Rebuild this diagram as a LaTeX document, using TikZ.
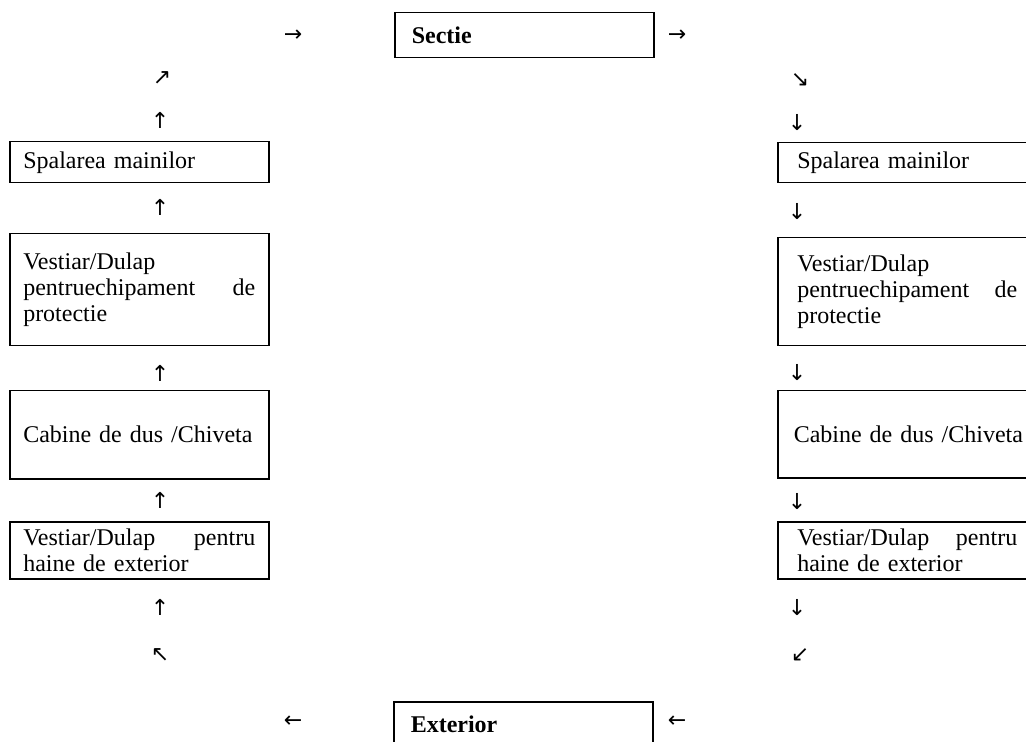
\documentclass[tikz,border=0pt]{standalone}
\usepackage{fontspec}
\setmainfont{Liberation Serif}
\newfontfamily\arrowfont{DejaVu Sans}
\begin{document}
\begin{tikzpicture}[x=0.5pt,y=-0.5pt,
  box/.style={draw, line width=0.75pt, anchor=north west,
    minimum width=129.5pt, text width=116pt, inner xsep=6.75pt,
    inner ysep=0pt, align=left, font=\fontsize{12}{13}\selectfont},
  rbox/.style={box, text width=110pt, inner xsep=8pt},
  headbox/.style={box, text width=112.5pt, inner xsep=8pt,
    font=\fontsize{12}{13}\selectfont\bfseries},
  arr/.style={font=\arrowfont\fontsize{11}{11}\selectfont, inner sep=0pt}]
\useasboundingbox (0,0) rectangle (1026,742);
\clip (0,0) rectangle (1026,742);

% top and bottom blocks
\node[headbox, minimum height=22.5pt] (sectie) at (394,12) {Sectie};
\node[headbox, minimum height=23pt] (exterior) at (393,701) {Exterior};

% left column (way in)
\node[box, minimum height=20.5pt] (l1) at (9,141) {Spalarea mainilor};
\node[box, minimum height=56pt] (l2) at (9,233)
  {Vestiar/Dulap\\pentruechipament\hfill de\\protectie};
\node[box, minimum height=44pt] (l3) at (9,390) {Cabine de dus /Chiveta};
\node[box, minimum height=28.5pt] (l4) at (9,521)
  {Vestiar/Dulap\hfill pentru\\haine de exterior};

% right column (way out)
\node[rbox, minimum height=20pt] (r1) at (777,142) {Spalarea mainilor};
\node[rbox, minimum height=54pt] (r2) at (777,237)
  {Vestiar/Dulap\\pentruechipament\hfill de\\protectie};
\node[rbox, text width=116pt, minimum height=43.5pt] (r3) at (777,390)
  {Cabine de dus /Chiveta};
\node[rbox, minimum height=28.5pt] (r4) at (777,521)
  {Vestiar/Dulap\hfill pentru\\haine de exterior};

% direction marks, left side
\node[arr] (la0) at (293,36) {→};
\node[arr] (la1) at (162,78) {↗};
\node[arr] (la2) at (160,120) {↑};
\node[arr] (la3) at (160,207) {↑};
\node[arr] (la4) at (160,373) {↑};
\node[arr] (la5) at (160,500) {↑};
\node[arr] (la6) at (160,607) {↑};
\node[arr] (la7) at (160,655) {↖};
\node[arr] (la8) at (293,722) {←};

% direction marks, right side
\node[arr] (ra0) at (677,36) {→};
\node[arr] (ra1) at (800,80) {↘};
\node[arr] (ra2) at (797,123) {↓};
\node[arr] (ra3) at (797,212) {↓};
\node[arr] (ra4) at (797,373) {↓};
\node[arr] (ra5) at (797,502) {↓};
\node[arr] (ra6) at (797,608) {↓};
\node[arr] (ra7) at (800,655) {↙};
\node[arr] (ra8) at (677,722) {←};
\end{tikzpicture}
\end{document}
